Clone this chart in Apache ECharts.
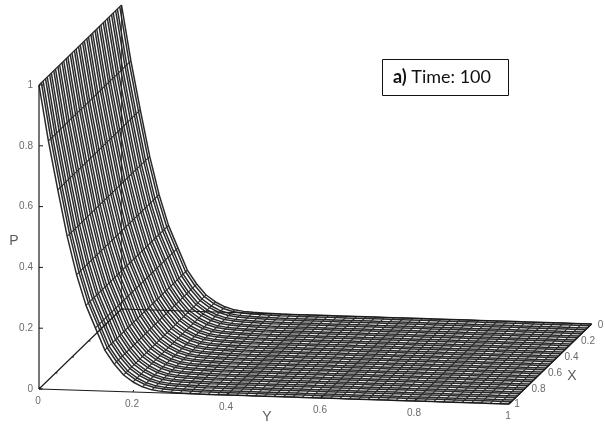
<!DOCTYPE html>
<html><head><meta charset="utf-8">
<style>html,body{margin:0;padding:0;background:#fff}#c{width:605px;height:427px}</style>
<script src="https://cdn.jsdelivr.net/npm/echarts@6/dist/echarts.min.js"></script>
</head><body><div id="c"></div>
<script>
const xGrid = [0,0.021,0.05,0.071,0.1,0.121,0.15,0.171,0.2,0.221,0.25,0.271,0.3,0.321,0.35,0.371,0.4,0.421,0.45,0.471,0.5,0.521,0.55,0.571,0.6,0.621,0.65,0.671,0.7,0.721,0.75,0.771,0.8,0.821,0.85,0.871,0.9,0.921,0.95,0.971,1];
const yGrid = [0,0.02,0.04,0.06,0.08,0.1,0.12,0.14,0.16,0.18,0.2,0.22,0.24,0.26,0.28,0.3,0.32,0.34,0.36,0.38,0.4,0.42,0.44,0.46,0.48,0.5,0.52,0.54,0.56,0.58,0.6,0.62,0.64,0.66,0.68,0.7,0.72,0.74,0.76,0.78,0.8,0.82,0.84,0.86,0.88,0.9,0.92,0.94,0.96,0.98,1];
const pProfile = [1,0.817,0.657,0.505,0.38,0.28,0.207,0.135,0.09,0.055,0.033,0.018,0.009,0.005,0.003,0.002,0.001,0,0,0,0,0,0,0,0,0,0,0,0,0,0,0,0,0,0,0,0,0,0,0,0,0,0,0,0,0,0,0,0,0,0];
const pTicks = [0,0.2,0.4,0.6,0.8,1];
const yTicks = [0,0.2,0.4,0.6,0.8,1];
const xTicks = [0,0.2,0.4,0.6,0.8,1];

// orthographic view of the (x, y, p) box on the page
const view = {ox:39, oy:389, yu:470, yv:15, xu:-82.5, xv:80, pv:-304};
function proj(x,y,p){
  return [view.ox + y*view.yu + (x-1)*view.xu, view.oy + y*view.yv + (x-1)*view.xv + p*view.pv];
}
const lineBase = {type:'line', symbol:'none', silent:true, animation:false, clip:false};
const series = [];
const meshStyle = {color:'#2a2a2a', width:1.5};
const crossStyle = {color:'#2a2a2a', width:1.1};
xGrid.forEach(x=>{
  series.push({...lineBase, lineStyle:meshStyle, data:yGrid.map((y,i)=>proj(x,y,pProfile[i]))});
});
yGrid.forEach((y,i)=>{
  series.push({...lineBase, lineStyle:crossStyle, data:xGrid.map(x=>proj(x,y,pProfile[i]))});
});
const axisStyle = {color:'#1a1a1a', width:1.2};
const box = [
  [[1,0,0],[1,0,1]],
  [[1,0,0],[1,1,0]],
  [[1,1,0],[0,1,0]],
  [[1,0,0],[0,0,0]],
  [[0,0,0],[0,1,0]]
];
box.forEach(b=>series.push({...lineBase, lineStyle:axisStyle, data:b.map(q=>proj(...q))}));
series.push({...lineBase, lineStyle:{color:'#222', width:0.8}, data:[proj(0,0,0),proj(0,0,1)]});
// ticks
const tickStyle = {color:'#1a1a1a', width:1};
pTicks.forEach(p=>{const a=proj(1,0,p); series.push({...lineBase,lineStyle:tickStyle,data:[a,[a[0]+4,a[1]]]});});
yTicks.forEach(y=>{const a=proj(1,y,0); series.push({...lineBase,lineStyle:tickStyle,data:[a,[a[0]+0.6,a[1]-2]]});});
xTicks.forEach(x=>{const a=proj(x,0,0); series.push({...lineBase,lineStyle:tickStyle,data:[a,[a[0]+2,a[1]]]});});
// tick labels
function labels(items,size,color){
  return {type:'scatter',symbolSize:0,silent:true,animation:false,clip:false,z:5,
    data:items.map(t=>({value:t.at,label:{show:true,position:'inside',formatter:t.text,align:t.align||'center',verticalAlign:'middle',
      color:color,fontSize:size,fontFamily:'Liberation Sans'}}))};
}
series.push(labels(pTicks.map(p=>{const a=proj(1,0,p);return {at:[a[0]-6,a[1]],text:String(p),align:'right'};}),10,'#444'));
series.push(labels(yTicks.map(y=>{const a=proj(1,y,0);return {at:[a[0]-1,a[1]+12],text:String(y)};}),10,'#444'));
series.push(labels(xTicks.map(x=>{const a=proj(x,1,0);return {at:[a[0]+13-(x===1?5:0)-(x===0?4:0),a[1]+1+(x===1?-1:0)],text:String(x)};}),10,'#444'));
series.push(labels([{at:[14,241],text:'P'},{at:[267,417],text:'Y'},{at:[572,376],text:'X'}],14,'#333'));

const chart = echarts.init(document.getElementById('c'),null,{renderer:'canvas'});
chart.setOption({
  animation:false,
  backgroundColor:'#fff',
  grid:{left:0,right:0,top:0,bottom:0},
  xAxis:{type:'value',min:0,max:605,show:false},
  yAxis:{type:'value',min:0,max:427,inverse:true,show:false},
  series:series,
  graphic:[{type:'rect',shape:{x:382.5,y:59.5,width:126,height:36},style:{fill:'#fff',stroke:'#111',lineWidth:1}},
    {type:'text',x:393,y:77,style:{text:'{b|a)} Time: 100',verticalAlign:'middle',rich:{b:{fontWeight:'bold',fontFamily:'Lato',fontSize:18,fill:'#111',color:'#111'}},font:'18px Lato',fontFamily:'Lato',fontSize:18,fill:'#111'}}]
});
</script></body></html>
